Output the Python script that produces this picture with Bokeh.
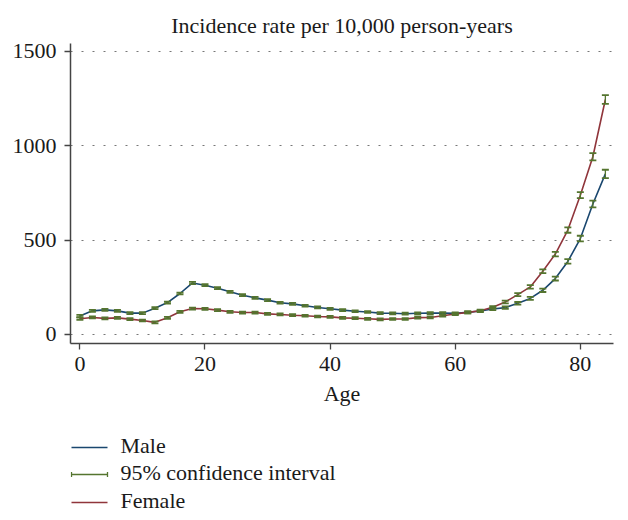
from bokeh.plotting import figure
from bokeh.models import Range1d, Whisker, ColumnDataSource, TeeHead
from bokeh.layouts import column
from bokeh.core.properties import value
from bokeh.embed import file_html
from bokeh.resources import INLINE

ages = [0, 2, 4, 6, 8, 10, 12, 14, 16, 18, 20, 22, 24, 26, 28, 30, 32, 34, 36, 38, 40, 42,
        44, 46, 48, 50, 52, 54, 56, 58, 60, 62, 64, 66, 68, 70, 72, 74, 76, 78, 80, 82, 84]
male = [98, 125, 130, 125, 113, 113, 139, 169, 217, 273, 261, 245, 226, 208, 194, 182, 168, 162,
        152, 143, 136, 129, 123, 119, 113, 112, 110, 112, 113, 113, 112, 117, 124, 135, 142, 165,
        191, 234, 296, 387, 508, 691, 851]
female = [83, 90, 85, 88, 81, 74, 64, 88, 120, 137, 136, 129, 120, 116, 116, 109, 106, 102,
          99, 95, 93, 88, 86, 83, 80, 82, 82, 89, 90, 99, 108, 117, 126, 144, 172, 211,
          252, 335, 426, 553, 738, 942, 1245]
male_ci = [6, 5, 5, 5, 5, 5, 5, 5, 5, 6, 5, 5, 5, 5, 5, 5, 5, 5, 5, 5, 5, 5,
           5, 5, 5, 5, 5, 5, 5, 5, 5, 5, 5, 6, 6, 7, 8, 9, 10, 12, 15, 18, 22]
female_ci = [6, 5, 5, 5, 5, 5, 5, 5, 5, 5, 5, 5, 5, 5, 5, 5, 5, 5, 5, 5, 5, 5,
             5, 5, 5, 5, 5, 5, 5, 5, 5, 5, 5, 6, 7, 8, 9, 10, 12, 14, 16, 19, 23]
y_ticks = [0, 500, 1000, 1500]
x_ticks = [0, 20, 40, 60, 80]
legend_labels = ["Male", "95% confidence interval", "Female"]

NAVY = "#1a476f"
MAROON = "#90353b"
GREEN = "#55752f"
FONT = "Liberation Serif"
TXT = "#1a1a1a"

p = figure(width=620, height=415, x_range=Range1d(-1.5, 85.3), y_range=Range1d(-48, 1542),
           output_backend="svg", toolbar_location=None,
           min_border_left=70, min_border_right=7, min_border_top=43, min_border_bottom=72,
           title="Incidence rate per 10,000 person-years")
p.title.text_font = FONT
p.title.text_font_size = "22px"
p.title.text_font_style = "normal"
p.title.text_color = TXT
p.title.align = "center"
p.title.offset = -25
p.title.standoff = 12
p.outline_line_color = None
p.background_fill_color = "white"
p.border_fill_color = "white"

p.xgrid.visible = False
p.ygrid.grid_line_color = "#777777"
p.ygrid.grid_line_dash = "2 9"
p.ygrid.grid_line_width = 1.2

p.xaxis.ticker = x_ticks
p.yaxis.ticker = y_ticks
p.axis.minor_tick_line_color = None
p.axis.major_tick_in = 0
p.axis.major_tick_out = 6
p.axis.axis_line_color = "#444444"
p.axis.axis_line_width = 1.5
p.axis.major_tick_line_color = "#444444"
p.axis.major_tick_line_width = 1.3
p.axis.major_label_text_font = FONT
p.axis.major_label_text_font_size = "22px"
p.axis.major_label_text_color = TXT
p.xaxis.major_label_standoff = 7
p.yaxis.major_label_standoff = 8
p.xaxis.axis_label = "Age"
p.xaxis.axis_label_text_font = FONT
p.xaxis.axis_label_text_font_size = "22px"
p.xaxis.axis_label_text_font_style = "normal"
p.xaxis.axis_label_text_color = TXT
p.xaxis.axis_label_standoff = 7

p.line(ages, male, line_color=NAVY, line_width=1.6)
p.line(ages, female, line_color=MAROON, line_width=1.6)

for vals, ci in ((male, male_ci), (female, female_ci)):
    src = ColumnDataSource(dict(age=ages,
                                lo=[v - c for v, c in zip(vals, ci)],
                                hi=[v + c for v, c in zip(vals, ci)]))
    w = Whisker(base="age", lower="lo", upper="hi", source=src,
                line_color=GREEN, line_width=1.3,
                upper_head=TeeHead(size=7, line_color=GREEN, line_width=1.8),
                lower_head=TeeHead(size=7, line_color=GREEN, line_width=1.8))
    w.level = "overlay"
    p.add_layout(w)

# legend panel (frame aligned with the main plot's frame; x in page pixels)
lf = figure(width=620, height=97, x_range=Range1d(70, 613), y_range=Range1d(97, 0),
            output_backend="svg", toolbar_location=None,
            min_border_left=70, min_border_right=7, min_border_top=0, min_border_bottom=0,
            x_axis_location=None, y_axis_location=None)
lf.grid.visible = False
lf.outline_line_color = None
lf.background_fill_color = "white"
lf.border_fill_color = "white"

ys = [32, 59, 87]
cols = [NAVY, GREEN, MAROON]
for yy, c in zip(ys, cols):
    lf.segment(x0=71, y0=yy, x1=107, y1=yy, line_color=c, line_width=1.5)
lf.segment(x0=[71, 107], y0=[ys[1] - 2.5] * 2, x1=[71, 107], y1=[ys[1] + 2.5] * 2,
           line_color=GREEN, line_width=1.3)
lf.text(x=[120] * 3, y=[yy - 2 for yy in ys], text=legend_labels,
        text_font=value(FONT), text_font_size="22px", text_color=TXT,
        text_baseline="middle", text_align="left")

layout = column(p, lf, spacing=0)
open("out.html", "w").write(file_html(layout, INLINE))
